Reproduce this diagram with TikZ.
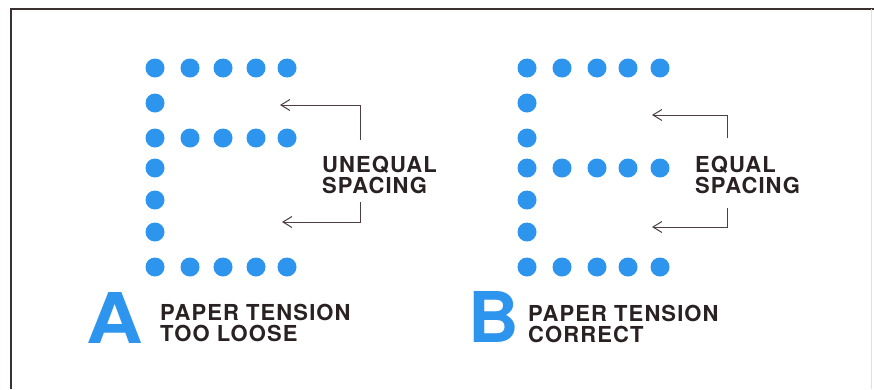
\documentclass[tikz,border=0pt]{standalone}
\usepackage{fontspec}
\usetikzlibrary{arrows.meta,positioning}
\newfontfamily\capsfont[LetterSpace=5]{TeX Gyre Heros}
\newfontfamily\bigfont{TeX Gyre Heros}
\definecolor{DotBlue}{HTML}{2E95EE}
\definecolor{InkGray}{HTML}{2A2222}
\definecolor{LineGray}{HTML}{4E4040}
\definecolor{FrameDark}{HTML}{3B3030}

\begin{document}
\begin{tikzpicture}[x=1pt,y=-1pt,
  dot/.style={fill=DotBlue},
  caption/.style={font=\capsfont\bfseries\fontsize{22}{21}\selectfont,color=InkGray,align=left,inner sep=0pt,anchor=north west},
  letter/.style={font=\bigfont\bfseries\fontsize{70}{70}\selectfont,color=DotBlue,inner sep=0pt,anchor=base west},
  pointer/.style={draw=LineGray,line width=1pt,-{Straight Barb[length=9pt,width=11pt]}}]
  \useasboundingbox (0,0) rectangle (874,389);
  \fill[white] (0,0) rectangle (874,389);
  \draw[FrameDark,line width=2pt] (11,389) -- (11,9) -- (874,9);
  \draw[black!12,line width=1pt] (871,9) -- (871,389);
  % E with the bar set too high
  \foreach \x in {155,190,223,256,287} {
    \fill[dot] (\x,68) circle (9.5pt);
    \fill[dot] (\x,138) circle (9.5pt);
    \fill[dot] (\x,267) circle (9.5pt);
  }
  \foreach \y in {103,168,200,232} \fill[dot] (155,\y) circle (9.5pt);
  % E with the bar in the middle
  \foreach \x in {527,562,597,628,660} {
    \fill[dot] (\x,68) circle (9.5pt);
    \fill[dot] (\x,168) circle (9.5pt);
    \fill[dot] (\x,267) circle (9.5pt);
  }
  \foreach \y in {103,138,200,232} \fill[dot] (527,\y) circle (9.5pt);

  \node[caption] (unequal) at (322,156) {UNEQUAL\\SPACING};
  \node[caption] (equal) at (695,156) {EQUAL\\SPACING};
  \coordinate (unequalTop) at (360,140);
  \coordinate (unequalBot) at (360,202);
  \coordinate (unequalTipA) at (280,105);
  \coordinate (unequalTipB) at (282,222);
  \coordinate (equalTop) at (727,138);
  \coordinate (equalBot) at (727,208);
  \coordinate (equalTipA) at (652,115);
  \coordinate (equalTipB) at (652,227);
  \draw[pointer] (unequalTop) |- (unequalTipA);
  \draw[pointer] (unequalBot) |- (unequalTipB);
  \draw[pointer] (equalTop) |- (equalTipA);
  \draw[pointer] (equalBot) |- (equalTipB);

  \node[letter] (caseA) at (86,343) {\scalebox{1.12}[1]{A}};
  \node[caption] (loose) at (160,304) {PAPER TENSION\\TOO LOOSE};
  \node[letter] (caseB) at (468,342) {B};
  \node[caption] (correct) at (528,305) {PAPER TENSION\\CORRECT};
\end{tikzpicture}
\end{document}
